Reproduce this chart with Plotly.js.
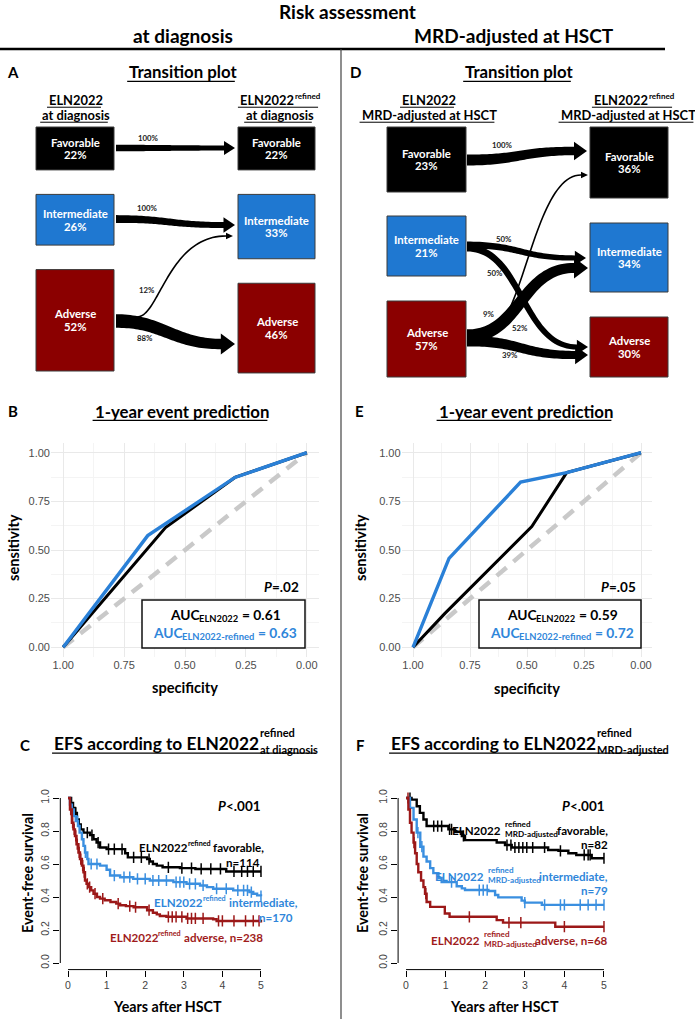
<!DOCTYPE html>
<html><head><meta charset="utf-8">
<script src="https://cdn.plot.ly/plotly-3.0.1.min.js"></script>
<style>html,body{margin:0;padding:0;background:#fff}</style>
</head><body><div id="chart" style="width:695px;height:1019px"></div>
<script>
// ================= DATA =================
const riskCategories = ['Favorable', 'Intermediate', 'Adverse'];
// Transition at diagnosis (panel A)
const diagLeftPct = [22, 26, 52];
const diagRightPct = [22, 33, 46];
const diagFlowFrom = [0, 1, 2, 2];
const diagFlowTo = [0, 1, 1, 2];
const diagFlowPct = [100, 100, 12, 88];
// Transition MRD-adjusted at HSCT (panel D)
const hsctLeftPct = [23, 21, 57];
const hsctRightPct = [36, 34, 30];
const hsctFlowFrom = [0, 1, 1, 2, 2, 2];
const hsctFlowTo = [0, 1, 2, 0, 1, 2];
const hsctFlowPct = [100, 50, 50, 9, 52, 39];

// ROC (panels B, E)
const rocTickVals = [1, 0.75, 0.5, 0.25, 0];
const rocTickText = ['1.00', '0.75', '0.50', '0.25', '0.00'];
const chanceSpec = [1, 0];
const chanceSens = [0, 1];
const rocB_elnSpec = [1, 0.58, 0.295, 0];
const rocB_elnSens = [0, 0.615, 0.873, 1];
const rocB_refSpec = [1, 0.653, 0.295, 0];
const rocB_refSens = [0, 0.574, 0.873, 1];
const rocE_elnSpec = [1, 0.86, 0.479, 0.326, 0];
const rocE_elnSens = [0, 0.174, 0.62, 0.898, 1];
const rocE_refSpec = [1, 0.842, 0.528, 0.326, 0];
const rocE_refSens = [0, 0.457, 0.849, 0.898, 1];
const aucB = ['0.61', '0.63'];
const aucE = ['0.59', '0.72'];
const pB = '.02', pE = '.05';

// Kaplan-Meier (panels C, F)
const kmTickX = [0, 1, 2, 3, 4, 5];
const kmTickY = [0, 0.2, 0.4, 0.6, 0.8, 1.0];
const kmC_favT = [0, 0.08, 0.13, 0.18, 0.23, 0.28, 0.33, 0.4, 0.57, 0.66, 0.74, 0.83, 1.0, 1.48, 1.55, 2.05, 2.12, 2.2, 2.3, 2.45, 2.9, 3.3, 4.1, 5.0];
const kmC_favS = [1, 0.97, 0.94, 0.91, 0.87, 0.84, 0.81, 0.79, 0.775, 0.75, 0.73, 0.70, 0.69, 0.665, 0.64, 0.63, 0.615, 0.60, 0.59, 0.58, 0.575, 0.57, 0.555, 0.555];
const kmC_favCens = [0.2, 0.5, 0.62, 0.78, 1.05, 1.2, 1.4, 1.7, 1.9, 2.1, 2.6, 2.95, 3.2, 3.45, 3.7, 3.95, 4.3, 4.5, 4.65, 4.8, 5.0];
const kmC_intT = [0, 0.05, 0.1, 0.15, 0.2, 0.26, 0.3, 0.36, 0.4, 0.44, 0.5, 0.53, 0.83, 1.0, 1.09, 1.35, 1.69, 2.12, 2.73, 3.07, 3.42, 3.6, 3.76, 4.28, 4.7, 4.8, 4.9, 5.0];
const kmC_intS = [1, 0.96, 0.93, 0.89, 0.86, 0.83, 0.79, 0.75, 0.71, 0.67, 0.63, 0.60, 0.59, 0.565, 0.53, 0.52, 0.51, 0.50, 0.49, 0.48, 0.47, 0.46, 0.45, 0.44, 0.43, 0.42, 0.41, 0.405];
const kmC_intCens = [0.25, 0.45, 0.6, 0.75, 1.2, 1.45, 1.6, 1.8, 2.0, 2.2, 2.35, 2.55, 2.8, 2.9, 3.0, 3.15, 3.3, 3.5, 3.85, 4.1, 4.4, 4.55, 4.65, 4.75, 5.0];
const kmC_advT = [0, 0.05, 0.1, 0.14, 0.18, 0.22, 0.27, 0.31, 0.36, 0.4, 0.44, 0.48, 0.53, 0.6, 0.66, 0.75, 0.83, 0.95, 1.1, 1.25, 1.35, 1.5, 1.7, 2.05, 2.2, 2.3, 2.38, 2.55, 3.07, 3.76, 3.85, 5.0];
const kmC_advS = [1, 0.93, 0.85, 0.81, 0.77, 0.72, 0.67, 0.63, 0.59, 0.55, 0.50, 0.48, 0.46, 0.44, 0.42, 0.40, 0.39, 0.38, 0.37, 0.36, 0.35, 0.345, 0.338, 0.32, 0.305, 0.295, 0.285, 0.28, 0.27, 0.265, 0.255, 0.245];
const kmC_advCens = [0.07, 0.12, 0.16, 0.2, 0.24, 0.29, 0.33, 0.38, 0.42, 0.5, 0.56, 0.7, 0.9, 1.3, 1.6, 1.75, 2.1, 2.6, 2.7, 2.8, 2.95, 3.1, 3.2, 3.3, 3.5, 3.9, 4.0, 4.3, 4.6, 4.8, 4.95];
const kmF_favT = [0, 0.14, 0.27, 0.35, 0.44, 0.52, 1.07, 1.24, 1.41, 1.49, 2.29, 2.5, 2.67, 3.59, 3.85, 4.1, 4.3, 4.69, 5.0];
const kmF_favS = [1, 0.99, 0.95, 0.91, 0.87, 0.83, 0.81, 0.795, 0.77, 0.745, 0.73, 0.715, 0.70, 0.685, 0.68, 0.665, 0.655, 0.635, 0.635];
const kmF_favCens = [0.1, 0.7, 0.8, 0.9, 1.1, 1.15, 1.45, 2.55, 2.65, 2.75, 2.85, 2.95, 3.05, 3.2, 3.5, 3.9, 4.5, 4.6, 4.65, 5.0];
const kmF_intT = [0, 0.1, 0.19, 0.27, 0.36, 0.44, 0.52, 0.61, 0.69, 0.82, 0.9, 1.28, 1.41, 1.49, 2.08, 2.25, 2.33, 2.92, 3.0, 3.43, 5.0];
const kmF_intS = [1, 0.94, 0.87, 0.79, 0.705, 0.645, 0.615, 0.575, 0.545, 0.515, 0.49, 0.465, 0.452, 0.442, 0.436, 0.412, 0.398, 0.378, 0.366, 0.352, 0.352];
const kmF_intCens = [0.3, 0.4, 1.15, 1.85, 1.95, 2.05, 3.0, 3.5, 3.9, 4.0, 4.4, 4.6, 4.8, 5.0];
const kmF_advT = [0, 0.06, 0.1, 0.14, 0.19, 0.23, 0.27, 0.31, 0.38, 0.44, 0.48, 0.52, 0.61, 0.98, 1.1, 2.29, 2.45, 3.77, 5.0];
const kmF_advS = [1, 0.93, 0.85, 0.79, 0.73, 0.665, 0.60, 0.55, 0.50, 0.46, 0.42, 0.37, 0.34, 0.30, 0.28, 0.26, 0.245, 0.22, 0.22];
const kmF_advCens = [0.05, 0.2, 0.5, 1.6, 2.6, 2.9, 4.0, 5.0];

// ================= LAYOUT HELPERS =================
const W = 695, H = 1019;
const X = p => p / W;
const Y = p => 1 - p / H;
const FAM = 'Lato';
const FONT = 'Lato, "Open Sans", sans-serif';
const TICKFONT = '"Liberation Sans", Arial, sans-serif';
const cv = document.createElement('canvas').getContext('2d');
function tw(t, size, style) {
  cv.font = (style || 'normal') + ' 700 ' + size + 'px ' + FAM;
  return cv.measureText(t).width;
}
function fit(t, target) { return target / tw(t, 100) * 100; }

const BLUE_BOX = '#1f78d1', RED_BOX = '#8b0000';
const ROC_BLUE = '#2a80d7', KM_BLUE = '#3a8fe0', KM_RED = '#9c1818', TXT_BLUE = '#2f86da', TXT_RED = '#a01b1b';

const ann = [];
const shapes = [];
function text(x, y, t, size, o) {
  o = o || {};
  ann.push({
    xref: 'paper', yref: 'paper', x: X(x), y: Y(y), text: t, showarrow: false,
    xanchor: o.anchor || 'center', yanchor: 'middle', textangle: o.angle || 0,
    font: { family: o.family || FONT, size: size, color: o.color || '#000', weight: 700, style: o.italic ? 'italic' : 'normal' }
  });
}
function hline(x0, x1, y, color, w) {
  shapes.push({ type: 'line', xref: 'paper', yref: 'paper', x0: X(x0), x1: X(x1), y0: Y(y), y1: Y(y), line: { color: color || '#000', width: w || 1.2 } });
}
// a run of plain text segments placed side by side: [{t, s, dy, gap, it}]
function runs(x, y, segs, anchor, color, underline) {
  const ws = segs.map(g => tw(g.t, g.s, g.it ? 'italic' : 'normal'));
  let total = 0; segs.forEach((g, i) => { total += (g.gap || 0) + ws[i]; });
  let cx = anchor === 'center' ? x - total / 2 : (anchor === 'right' ? x - total : x);
  const left = cx;
  segs.forEach((g, i) => {
    cx += g.gap || 0;
    text(cx, y + (g.dy || 0), g.t, g.s, { anchor: 'left', color: color, italic: g.it });
    cx += ws[i];
  });
  if (underline) hline(left, left + total, y + segs[0].s * 0.56, color || '#000', Math.max(1, segs[0].s / 14));
  return total;
}
const sp = s => tw(' ', s);
// main text followed by stacked superscript / subscript, centered at cx
function stackedTitle(cx, y, main, sup, sub, size, small, underline) {
  const gap = 1;
  const wm = tw(main, size), ws = Math.max(tw(sup, small), tw(sub, small));
  const left = cx - (wm + gap + ws) / 2;
  text(left, y, main, size, { anchor: 'left' });
  text(left + wm + gap, y - size * 0.58, sup, small, { anchor: 'left' });
  text(left + wm + gap, y + size * 0.36, sub, small, { anchor: 'left' });
  if (underline) hline(left, left + wm + gap + ws, y + size * 0.58, '#000', 1.3);
}
// right-aligned label: pre + stacked(sup/sub) + post
function stackedLabel(xr, y, pre, sup, sub, post, size, small, color) {
  const wp = tw(post, size);
  const ws = Math.max(tw(sup, small), tw(sub, small));
  text(xr, y, post, size, { anchor: 'right', color: color });
  const xs = xr - wp - sp(size) - ws;
  text(xs, y - size * 0.5, sup, small, { anchor: 'left', color: color });
  text(xs, y + size * 0.36, sub, small, { anchor: 'left', color: color });
  text(xs, y, pre, size, { anchor: 'right', color: color });
}

// ================= FONT SIZES =================
const S_TOP = fit('Risk assessment', 137);
const S_SEC = fit('at diagnosis', 100);
const S_TITLE = fit('1-year event prediction', 175);
const S_HEAD = fit('MRD-adjusted at HSCT', 135);
const S_BOX = fit('Intermediate', 65);
const S_FLOW = fit('100%', 20);
const S_AXT = fit('Years after HSCT', 108);
const S_KM = fit('favorable,', 51);
const S_P = fit('P<.001', 43);
const S_AUC = 110 / (tw('AUC', 100) + tw(' = 0.61', 100) + tw('ELN2022', 68)) * 100;

// ================= FRAME / HEADERS =================
text(348, 11, 'Risk assessment', S_TOP);
text(183, 35, 'at diagnosis', S_SEC);
text(514, 35, 'MRD-adjusted at HSCT', S_SEC);
hline(0, 665, 49, '#000', 2.6);
shapes.push({ type: 'line', xref: 'paper', yref: 'paper', x0: X(341), x1: X(341), y0: Y(49), y1: Y(1019), line: { color: '#444', width: 1.2 } });

const letters = [['A', 13, 72], ['D', 355, 72], ['B', 13, 411], ['E', 359, 411], ['C', 25, 745], ['F', 360, 745]];
letters.forEach(l => text(l[1], l[2], l[0], 15));

runs(181, 72, [{ t: 'Transition plot', s: S_TITLE }], 'center', '#000', true);
runs(517, 72, [{ t: 'Transition plot', s: S_TITLE }], 'center', '#000', true);
runs(180, 411, [{ t: '1-year event prediction', s: S_TITLE }], 'center', '#000', true);
runs(524, 411, [{ t: '1-year event prediction', s: S_TITLE }], 'center', '#000', true);
stackedTitle(184, 743, 'EFS according to ELN2022', 'refined', 'at diagnosis', S_TITLE * 1.03, fit('at diagnosis', 58), true);
stackedTitle(528, 743, 'EFS according to ELN2022', 'refined', 'MRD-adjusted', S_TITLE * 1.03, fit('MRD-adjusted', 72), true);

// column headers of transition plots
const supHead = [{ t: 'ELN2022', s: S_HEAD }, { t: 'refined', s: S_HEAD * 0.62, dy: -S_HEAD * 0.3, gap: 1 }];
runs(74, 100, [{ t: 'ELN2022', s: S_HEAD }], 'center', '#000', true);
runs(74, 115, [{ t: 'at diagnosis', s: S_HEAD }], 'center', '#000', true);
runs(278, 100, supHead, 'center', '#000', true);
runs(278, 115, [{ t: 'at diagnosis', s: S_HEAD }], 'center', '#000', true);
runs(427, 100, [{ t: 'ELN2022', s: S_HEAD }], 'center', '#000', true);
runs(427, 115, [{ t: 'MRD-adjusted at HSCT', s: S_HEAD }], 'center', '#000', true);
runs(632, 100, supHead, 'center', '#000', true);
runs(626, 115, [{ t: 'MRD-adjusted at HSCT', s: S_HEAD }], 'center', '#000', true);

// ================= TRANSITION PLOTS =================
const boxFill = ['#000000', BLUE_BOX, RED_BOX];
function drawBox(x0, x1, y0, y1, ci, pct) {
  shapes.push({ type: 'rect', xref: 'paper', yref: 'paper', x0: X(x0), x1: X(x1), y0: Y(y1), y1: Y(y0),
    fillcolor: boxFill[ci], line: { color: '#3a3a3a', width: 1 } });
  const cy = (y0 + y1) / 2, cx = (x0 + x1) / 2;
  text(cx, cy - S_BOX * 0.56, riskCategories[ci], S_BOX, { color: '#fff' });
  text(cx, cy + S_BOX * 0.56, pct + '%', S_BOX, { color: '#fff' });
}
// panel A: box heights proportional to the percentages
function proportionalBoxes(pcts) {
  let y = 127; const out = [];
  pcts.forEach(p => { const h = p * 1.95; out.push([y, y + h]); y += h + 24.5; });
  return out;
}
proportionalBoxes(diagLeftPct).forEach((b, i) => drawBox(36, 114, b[0], b[1], i, diagLeftPct[i]));
proportionalBoxes(diagRightPct).forEach((b, i) => drawBox(238, 315, b[0], b[1], i, diagRightPct[i]));
// panel D box geometry
const dLeft = [[127, 192], [216, 276], [301, 377]];
const dRight = [[127, 198], [223, 292], [317, 377]];
dLeft.forEach((b, i) => drawBox(387, 466, b[0], b[1], i, hsctLeftPct[i]));
dRight.forEach((b, i) => drawBox(590, 668, b[0], b[1], i, hsctRightPct[i]));

function arrowPath(x0, y0, x1, y1, w0, c1, c2) {
  const thin = w0 < 3;
  const w1 = thin ? w0 : w0 * 0.75;
  const hl = thin ? 7 : 8 + w0 * 0.45;
  const hw = thin ? w0 + 5 : w0 + 7.5;
  const xb = x1 - hl;
  const P = [[x0, y0], [x0 + c1 * (xb - x0), y0], [x0 + c2 * (xb - x0), y1], [xb, y1]];
  const N = 48, A = [], B = [];
  for (let i = 0; i <= N; i++) {
    const t = i / N, m = 1 - t;
    const bx = m * m * m * P[0][0] + 3 * m * m * t * P[1][0] + 3 * m * t * t * P[2][0] + t * t * t * P[3][0];
    const by = m * m * m * P[0][1] + 3 * m * m * t * P[1][1] + 3 * m * t * t * P[2][1] + t * t * t * P[3][1];
    const dx = 3 * m * m * (P[1][0] - P[0][0]) + 6 * m * t * (P[2][0] - P[1][0]) + 3 * t * t * (P[3][0] - P[2][0]);
    const dy = 3 * m * m * (P[1][1] - P[0][1]) + 6 * m * t * (P[2][1] - P[1][1]) + 3 * t * t * (P[3][1] - P[2][1]);
    const L = Math.hypot(dx, dy) || 1, nx = -dy / L, ny = dx / L;
    const w = (w0 + (w1 - w0) * t) / 2;
    A.push([bx + nx * w, by + ny * w]); B.push([bx - nx * w, by - ny * w]);
  }
  const pts = A.concat([[xb, y1 + hw / 2], [x1, y1], [xb, y1 - hw / 2]]).concat(B.reverse());
  return 'M' + pts.map(p => X(p[0]).toFixed(5) + ',' + Y(p[1]).toFixed(5)).join('L') + 'Z';
}
// band width from the share of all patients that moves along the flow
function drawFlows(leftPct, from, pct, k, b, geo) {
  from.forEach((f, i) => {
    const g = geo[i];
    const share = leftPct[f] * pct[i] / 100;
    const w = share < 7 ? 1.6 : k * share + b;
    shapes.push({ type: 'path', xref: 'paper', yref: 'paper', path: arrowPath(g[0], g[1], g[2], g[3], w, g[4], g[5]),
      fillcolor: '#000', line: { width: 0 } });
    text(g[6], g[7], pct[i] + '%', S_FLOW, { color: '#222' });
  });
}
// [startX, startY, tipX, tipY, c1, c2, labelX, labelY]
const aFlowGeo = [
  [116, 148, 235, 148, 0.5, 0.5, 148, 138],
  [116, 219, 235, 225, 0.5, 0.5, 147, 208],
  [137, 317, 233, 236, 0.25, 0.35, 147, 290],
  [116, 321, 235, 344, 0.45, 0.55, 145, 338]
];
const dFlowGeo = [
  [467, 160, 587, 151, 0.5, 0.5, 502, 145],
  [467, 245, 586, 258, 0.5, 0.5, 504, 239],
  [467, 248, 588, 347, 0.5, 0.5, 495, 273],
  [484, 336, 588, 175, 0.4, 0.5, 489, 314],
  [467, 336, 588, 268, 0.5, 0.5, 520, 328],
  [467, 341, 588, 355, 0.5, 0.5, 510, 355]
];
drawFlows(diagLeftPct, diagFlowFrom, diagFlowPct, 0.3, 0, aFlowGeo);
drawFlows(hsctLeftPct, hsctFlowFrom, hsctFlowPct, 0.33, 3.5, dFlowGeo);

// ================= ROC PANELS =================
function rocAxes(x0, x1) {
  const common = {
    tickmode: 'array', tickvals: rocTickVals, ticktext: rocTickText,
    showgrid: true, gridcolor: '#e9e9e9', gridwidth: 1, zeroline: false, showline: false, ticks: '',
    tickfont: { family: TICKFONT, size: 11, color: '#4d4d4d' },
    minor: { tickmode: 'array', tickvals: [0.875, 0.625, 0.375, 0.125], showgrid: true, gridcolor: '#f4f4f4', gridwidth: 1, ticks: '' }
  };
  return {
    x: Object.assign({ domain: [X(x0), X(x1)], range: [1.05, -0.05] }, common),
    y: Object.assign({ domain: [Y(657), Y(443)], range: [-0.05, 1.05] }, JSON.parse(JSON.stringify(common)))
  };
}
const rB = rocAxes(51, 319), rE = rocAxes(401.6, 652.4);

const traces = [];
function roc(xa, ya, es, en, rs, rn) {
  traces.push({ x: chanceSpec, y: chanceSens, xaxis: xa, yaxis: ya, mode: 'lines', line: { color: '#c9c9c9', width: 4.5, dash: '13px,9px' }, hoverinfo: 'skip' });
  traces.push({ x: es, y: en, xaxis: xa, yaxis: ya, mode: 'lines', line: { color: '#000', width: 3 }, name: 'ELN2022' });
  traces.push({ x: rs, y: rn, xaxis: xa, yaxis: ya, mode: 'lines', line: { color: ROC_BLUE, width: 3.4 }, name: 'ELN2022-refined' });
}
roc('x', 'y', rocB_elnSpec, rocB_elnSens, rocB_refSpec, rocB_refSens);
roc('x2', 'y2', rocE_elnSpec, rocE_elnSens, rocE_refSpec, rocE_refSens);

function aucBox(x0, x1, cx, auc, p, px) {
  shapes.push({ type: 'rect', xref: 'paper', yref: 'paper', x0: X(x0), x1: X(x1), y0: Y(648), y1: Y(600), fillcolor: '#fff', line: { color: '#111', width: 1.5 } });
  const sub = S_AUC * 0.68;
  runs(cx, 614, [{ t: 'AUC', s: S_AUC }, { t: 'ELN2022', s: sub, dy: S_AUC * 0.3, gap: 0.5 }, { t: '= ' + auc[0], s: S_AUC, gap: sp(S_AUC) }], 'center', '#000');
  runs(cx, 632, [{ t: 'AUC', s: S_AUC }, { t: 'ELN2022-refined', s: sub, dy: S_AUC * 0.3, gap: 0.5 }, { t: '= ' + auc[1], s: S_AUC, gap: sp(S_AUC) }], 'center', TXT_BLUE);
  runs(px, 587, [{ t: 'P', s: S_P, it: true }, { t: '=' + p, s: S_P }], 'center', '#000');
}
aucBox(142, 305, 223, aucB, pB, 279);
aucBox(479, 641, 560, aucE, pE, 616);
const S_ROCT = fit('specificity', 66);
text(185, 687, 'specificity', S_ROCT);
text(527, 688, 'specificity', S_ROCT);
text(13, 548, 'sensitivity', S_ROCT, { angle: -90 });
text(360, 548, 'sensitivity', S_ROCT, { angle: -90 });

// ================= KAPLAN-MEIER PANELS =================
function stepAt(ts, ss, t) { let v = ss[0]; for (let i = 0; i < ts.length; i++) if (ts[i] <= t) v = ss[i]; return v; }
function km(xa, ya, ts, ss, cens, color, name) {
  traces.push({ x: ts, y: ss, xaxis: xa, yaxis: ya, mode: 'lines', line: { color: color, width: 2.4, shape: 'hv' }, name: name });
  traces.push({ x: cens, y: cens.map(t => stepAt(ts, ss, t)), xaxis: xa, yaxis: ya, mode: 'markers',
    marker: { symbol: 'line-ns-open', size: 8, color: color, line: { color: color, width: 1.5 } }, name: name + ' censored' });
}
km('x3', 'y3', kmC_favT, kmC_favS, kmC_favCens, '#000', 'favorable');
km('x3', 'y3', kmC_intT, kmC_intS, kmC_intCens, KM_BLUE, 'intermediate');
km('x3', 'y3', kmC_advT, kmC_advS, kmC_advCens, KM_RED, 'adverse');
km('x4', 'y4', kmF_favT, kmF_favS, kmF_favCens, '#000', 'favorable');
km('x4', 'y4', kmF_intT, kmF_intS, kmF_intCens, KM_BLUE, 'intermediate');
km('x4', 'y4', kmF_advT, kmF_advS, kmF_advCens, KM_RED, 'adverse');

function kmAxes(x0, x1) {
  return {
    x: { domain: [X(x0), X(x1)], range: [-0.2, 5.2], tickmode: 'array', tickvals: kmTickX, ticktext: kmTickX.map(String),
      showgrid: false, zeroline: false, showline: false, ticks: 'outside', ticklen: 6, tickwidth: 1, tickcolor: '#000',
      tickfont: { family: TICKFONT, size: 10.5, color: '#444' } },
    y: { domain: [Y(969.6), Y(791.4)], range: [-0.04, 1.04], tickmode: 'array', tickvals: kmTickY, ticktext: kmTickY.map(v => v.toFixed(1)),
      showgrid: false, zeroline: false, showline: false, ticks: 'outside', ticklen: 6, tickwidth: 1, tickcolor: '#000', tickangle: -90,
      tickfont: { family: TICKFONT, size: 10.5, color: '#444' } }
  };
}
const kC = kmAxes(60.3, 268.7), kF = kmAxes(398.1, 611.9);
// R-style axis lines spanning first to last tick
[['x3', 'y3', 60.3], ['x4', 'y4', 398.1]].forEach(a => {
  shapes.push({ type: 'line', xref: a[0], yref: 'paper', x0: 0, x1: 5, y0: Y(969.6), y1: Y(969.6), line: { color: '#000', width: 1 } });
  shapes.push({ type: 'line', xref: 'paper', yref: a[1], x0: X(a[2]), x1: X(a[2]), y0: 0, y1: 1, line: { color: '#000', width: 1 } });
});
text(167, 1006, 'Years after HSCT', S_AXT);
text(504, 1006, 'Years after HSCT', S_AXT);
const S_EFS = fit('Event-free survival', 120);
text(27, 873, 'Event-free survival', S_EFS, { angle: -90 });
text(362, 873, 'Event-free survival', S_EFS, { angle: -90 });
runs(237, 806, [{ t: 'P', s: S_P, it: true }, { t: '<.001', s: S_P }], 'center', '#000');
runs(581, 806, [{ t: 'P', s: S_P, it: true }, { t: '<.001', s: S_P }], 'center', '#000');

// KM labels panel C
const supKM = S_KM * 0.62;
function refinedLabel(xr, y, post, color) {
  runs(xr, y, [{ t: 'ELN2022', s: S_KM }, { t: 'refined', s: supKM, dy: -S_KM * 0.3, gap: 0.5 }, { t: post, s: S_KM, gap: sp(S_KM) }], 'right', color);
}
refinedLabel(262, 847, 'favorable,', '#000');
text(262, 862, 'n=114', S_KM, { anchor: 'right' });
refinedLabel(295, 902, 'intermediate,', TXT_BLUE);
text(295, 917, 'n=170', S_KM, { anchor: 'right', color: TXT_BLUE });
refinedLabel(261, 937, 'adverse, n=238', TXT_RED);
// KM labels panel F
const S_KMS = fit('MRD-adjusted', 53);
stackedLabel(610, 830, 'ELN2022', 'refined', 'MRD-adjusted', 'favorable,', S_KM, S_KMS, '#000');
text(610, 844, 'n=82', S_KM, { anchor: 'right' });
stackedLabel(610, 876, 'ELN2022', 'refined', 'MRD-adjusted', 'intermediate,', S_KM, S_KMS, TXT_BLUE);
text(610, 890, 'n=79', S_KM, { anchor: 'right', color: TXT_BLUE });
stackedLabel(610, 940, 'ELN2022', 'refined', 'MRD-adjusted', 'adverse, n=68', S_KM, S_KMS, TXT_RED);

// ================= LAYOUT =================
const layout = {
  width: W, height: H, margin: { l: 0, r: 0, t: 0, b: 0 }, showlegend: false,
  paper_bgcolor: '#fff', plot_bgcolor: '#fff', font: { family: FONT },
  xaxis: Object.assign({ anchor: 'y' }, rB.x), yaxis: Object.assign({ anchor: 'x' }, rB.y),
  xaxis2: Object.assign({ anchor: 'y2' }, rE.x), yaxis2: Object.assign({ anchor: 'x2' }, rE.y),
  xaxis3: Object.assign({ anchor: 'y3' }, kC.x), yaxis3: Object.assign({ anchor: 'x3' }, kC.y),
  xaxis4: Object.assign({ anchor: 'y4' }, kF.x), yaxis4: Object.assign({ anchor: 'x4' }, kF.y),
  shapes: shapes, annotations: ann
};
Plotly.newPlot('chart', traces, layout, { staticPlot: true, displayModeBar: false });
</script>
</body></html>
